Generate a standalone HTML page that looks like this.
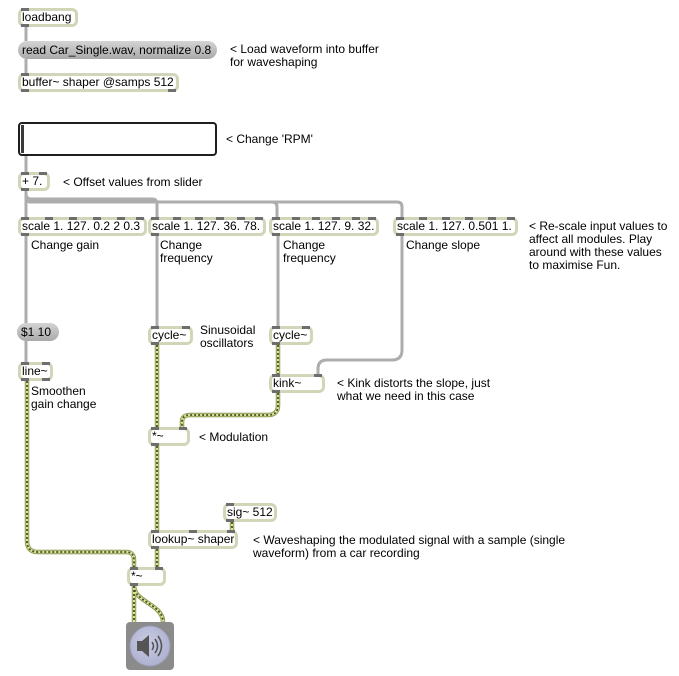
<!DOCTYPE html>
<html><head><meta charset="utf-8">
<style>
html,body{margin:0;padding:0;background:#fff;}
body{width:679px;height:676px;position:relative;overflow:hidden;font-family:"Liberation Sans",Arial,sans-serif;font-size:12px;color:#000;}
.o{position:absolute;box-sizing:border-box;border:3px solid #d2d6b9;border-radius:6px;background:#fff;line-height:13px;padding-left:1px;white-space:nowrap;}
.m{position:absolute;box-sizing:border-box;border-radius:9px;background:linear-gradient(#d4d4d4,#a9a9a9);line-height:18px;padding-left:4px;white-space:nowrap;}
.i{position:absolute;top:-3px;width:8px;height:3px;background:#6e6e6e;}
.u{position:absolute;bottom:-3px;width:8px;height:3px;background:#6e6e6e;}
.c{position:absolute;line-height:13px;white-space:nowrap;}
svg{position:absolute;left:0;top:0;}
</style></head><body>

<svg width="679" height="676" viewBox="0 0 679 676">
<g fill="none" stroke="#adadad" stroke-width="3" stroke-linecap="butt">
<path d="M26,27 V41"/>
<path d="M26,59 V73"/>
<path d="M26,156 V172"/>
<path d="M26,191 V217"/>
<path d="M26,191 V194 Q26,199 31,199 H152 Q157,199 157,204 V217"/>
<path d="M26,191 V197 Q26,202 31,202 H272 Q277,202 277,207 V217"/>
<path d="M26,191 V197 Q26,202 31,202 H397 Q402,202 402,207 V217"/>
<path d="M26,236 V323"/>
<path d="M26,341 V362"/>
<path d="M157,236 V326"/>
<path d="M278,236 V326"/>
<path d="M402,236 V350 Q402,360 392,360 H327 Q318,360 318,369 V374"/>
</g>
<g fill="none" stroke-linecap="butt">
<g stroke="#8a9850" stroke-width="4.5">
<path d="M157,345 V427"/>
<path d="M278,345 V374"/>
<path d="M278,393 V405 Q278,415 268,415 H190 Q182,415 182,422 V427"/>
<path d="M157,446 V530"/>
<path d="M232,522 V530"/>
<path d="M157,549 V567"/>
<path d="M27,381 V541 Q27,552 38,552 H126 Q134,552 134,560 V567"/>
<path d="M134,586 V622"/>
<path d="M134,586 C134,602 163,604 163,622"/>
</g>
<g stroke="#dbe69c" stroke-width="2.6">
<path d="M157,345 V427"/>
<path d="M278,345 V374"/>
<path d="M278,393 V405 Q278,415 268,415 H190 Q182,415 182,422 V427"/>
<path d="M157,446 V530"/>
<path d="M232,522 V530"/>
<path d="M157,549 V567"/>
<path d="M27,381 V541 Q27,552 38,552 H126 Q134,552 134,560 V567"/>
<path d="M134,586 V622"/>
<path d="M134,586 C134,602 163,604 163,622"/>
</g>
<g stroke="#46522a" stroke-width="1.8" stroke-dasharray="2 2">
<path d="M157,345 V427"/>
<path d="M278,345 V374"/>
<path d="M278,393 V405 Q278,415 268,415 H190 Q182,415 182,422 V427"/>
<path d="M157,446 V530"/>
<path d="M232,522 V530"/>
<path d="M157,549 V567"/>
<path d="M27,381 V541 Q27,552 38,552 H126 Q134,552 134,560 V567"/>
<path d="M134,586 V622"/>
<path d="M134,586 C134,602 163,604 163,622"/>
</g>
</g>
</svg>

<!-- top -->
<div class="o" style="left:18px;top:8px;width:60px;height:19px;">loadbang<span class="i" style="left:0"></span><span class="u" style="left:0"></span></div>
<div class="m" style="left:18px;top:41px;width:199px;height:18px;">read Car_Single.wav, normalize 0.8</div>
<div class="o" style="left:18px;top:73px;width:161px;height:19px;">buffer~ shaper @samps 512<span class="i" style="left:0"></span><span class="u" style="left:0"></span><span class="u" style="right:0"></span></div>
<div class="c" style="left:230px;top:43px;">&lt; Load waveform into buffer<br>for waveshaping</div>

<!-- slider -->
<div style="position:absolute;left:18px;top:122px;width:199px;height:34px;box-sizing:border-box;border:2px solid #1e1e1e;border-radius:4px;background:#fff;"></div>
<div style="position:absolute;left:21px;top:125px;width:3px;height:28px;background:#3a3a3a;"></div>
<div class="c" style="left:226px;top:133px;">&lt; Change 'RPM'</div>

<div class="o" style="left:18px;top:172px;width:32px;height:19px;">+ 7.<span class="i" style="left:0"></span><span class="i" style="right:0"></span><span class="u" style="left:0"></span></div>
<div class="c" style="left:63px;top:176px;">&lt; Offset values from slider</div>

<!-- scales -->
<div class="o" style="left:18px;top:217px;width:129px;height:19px;">scale 1. 127. 0.2 2 0.3<span class="i" style="left:0"></span><span class="i" style="left:24px"></span><span class="i" style="left:48px"></span><span class="i" style="left:72px"></span><span class="i" style="left:96px"></span><span class="i" style="right:0"></span><span class="u" style="left:0"></span></div>
<div class="o" style="left:148px;top:217px;width:118px;height:19px;">scale 1. 127. 36. 78.<span class="i" style="left:0"></span><span class="i" style="left:22px"></span><span class="i" style="left:44px"></span><span class="i" style="left:65px"></span><span class="i" style="left:86px"></span><span class="i" style="right:0"></span><span class="u" style="left:0"></span></div>
<div class="o" style="left:269px;top:217px;width:110px;height:19px;">scale 1. 127. 9. 32.<span class="i" style="left:0"></span><span class="i" style="left:20px"></span><span class="i" style="left:40px"></span><span class="i" style="left:60px"></span><span class="i" style="left:80px"></span><span class="i" style="right:0"></span><span class="u" style="left:0"></span></div>
<div class="o" style="left:393px;top:217px;width:125px;height:19px;">scale 1. 127. 0.501 1.<span class="i" style="left:0"></span><span class="i" style="left:23px"></span><span class="i" style="left:46px"></span><span class="i" style="left:69px"></span><span class="i" style="left:92px"></span><span class="i" style="right:0"></span><span class="u" style="left:0"></span></div>

<div class="c" style="left:31px;top:239px;">Change gain</div>
<div class="c" style="left:160px;top:239px;">Change<br>frequency</div>
<div class="c" style="left:283px;top:239px;">Change<br>frequency</div>
<div class="c" style="left:406px;top:239px;">Change slope</div>
<div class="c" style="left:529px;top:220px;">&lt; Re-scale input values to<br>affect all modules. Play<br>around with these values<br>to maximise Fun.</div>

<!-- middle -->
<div class="m" style="left:17px;top:323px;width:42px;height:18px;">$1 10</div>
<div class="o" style="left:148px;top:326px;width:45px;height:19px;">cycle~<span class="i" style="left:0"></span><span class="i" style="right:0"></span><span class="u" style="left:0"></span></div>
<div class="o" style="left:269px;top:326px;width:44px;height:19px;">cycle~<span class="i" style="left:0"></span><span class="i" style="right:0"></span><span class="u" style="left:0"></span></div>
<div class="c" style="left:200px;top:324px;">Sinusoidal<br>oscillators</div>

<div class="o" style="left:18px;top:362px;width:35px;height:19px;">line~<span class="i" style="left:0"></span><span class="i" style="right:0"></span><span class="u" style="left:0"></span><span class="u" style="right:0"></span></div>
<div class="c" style="left:31px;top:385px;">Smoothen<br>gain change</div>

<div class="o" style="left:269px;top:374px;width:56px;height:19px;">kink~<span class="i" style="left:0"></span><span class="i" style="right:0"></span><span class="u" style="left:0"></span></div>
<div class="c" style="left:337px;top:377px;">&lt; Kink distorts the slope, just<br>what we need in this case</div>

<div class="o" style="left:148px;top:427px;width:42px;height:19px;">*~<span class="i" style="left:0"></span><span class="i" style="left:28px"></span><span class="u" style="left:0"></span></div>
<div class="c" style="left:199px;top:431px;">&lt; Modulation</div>

<!-- bottom -->
<div class="o" style="left:223px;top:503px;width:54px;height:19px;">sig~ 512<span class="i" style="left:0"></span><span class="u" style="left:0"></span></div>
<div class="o" style="left:148px;top:530px;width:90px;height:19px;">lookup~ shaper<span class="i" style="left:0"></span><span class="i" style="left:38px"></span><span class="i" style="right:0"></span><span class="u" style="left:0"></span></div>
<div class="c" style="left:253px;top:534px;">&lt; Waveshaping the modulated signal with a sample (single<br>waveform) from a car recording</div>

<div class="o" style="left:127px;top:567px;width:39px;height:19px;">*~<span class="i" style="left:0"></span><span class="i" style="left:25px"></span><span class="u" style="left:0"></span></div>

<!-- ezdac -->
<div style="position:absolute;left:126px;top:622px;width:48px;height:48px;background:#8b8b8b;border-radius:4px;"></div>
<svg width="679" height="676" viewBox="0 0 679 676" style="pointer-events:none;">
<defs><radialGradient id="g" cx="0.45" cy="0.4" r="0.6"><stop offset="0" stop-color="#c9cbe3"/><stop offset="1" stop-color="#aeb1d0"/></radialGradient></defs>
<circle cx="150" cy="646" r="20" fill="url(#g)" stroke="#9b9dba" stroke-width="1"/>
<path d="M137,641 H142 L149,635 V657 L142,651 H137 Z" fill="#555"/>
<path d="M152,642 Q155,646 152,650" fill="none" stroke="#555" stroke-width="1.6"/>
<path d="M155,639 Q160,646 155,653" fill="none" stroke="#555" stroke-width="1.6"/>
<path d="M158,636 Q165,646 158,656" fill="none" stroke="#555" stroke-width="1.6"/>
</svg>

</body></html>
